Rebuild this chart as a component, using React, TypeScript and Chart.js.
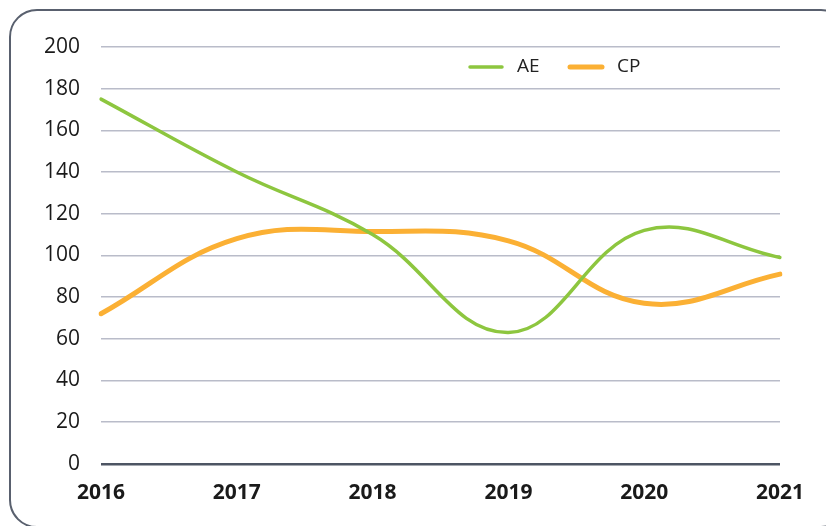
import React, { useEffect, useRef } from "react";
import { Chart, registerables } from "chart.js";

Chart.register(...registerables);

const years = ["2016", "2017", "2018", "2019", "2020", "2021"];
const aeValues = [175, 140, 110, 63, 112, 99];
const cpValues = [72, 108, 111.5, 107, 77, 91];
const seriesNames = ["AE", "CP"];
const seriesColors = ["#8dc63f", "#fbb034"];
const seriesWidths = [3.5, 5];

const legendPlugin = {
  id: "customLegend",
  afterDraw(chart: any) {
    const ctx = chart.ctx;
    const y = chart.chartArea.top + 20;
    const items = [
      { x: 470, textX: 517 },
      { x: 570, textX: 617 },
    ];
    ctx.save();
    chart.data.datasets.forEach((ds: any, i: number) => {
      const it = items[i];
      ctx.strokeStyle = ds.borderColor;
      ctx.lineWidth = ds.borderWidth;
      ctx.lineCap = "round";
      ctx.beginPath();
      ctx.moveTo(it.x, y);
      ctx.lineTo(it.x + 32, y);
      ctx.stroke();
      ctx.fillStyle = "#222";
      ctx.font = "19px 'Open Sans'";
      ctx.textBaseline = "middle";
      ctx.textAlign = "left";
      ctx.fillText(ds.label, it.textX, y);
    });
    ctx.restore();
  },
};

export default function App() {
  const ref = useRef<HTMLCanvasElement>(null);
  useEffect(() => {
    const chart = new Chart(ref.current!, {
      type: "line",
      data: {
        labels: years,
        datasets: [aeValues, cpValues].map((vals, i) => ({
          label: seriesNames[i],
          data: vals,
          borderColor: seriesColors[i],
          backgroundColor: seriesColors[i],
          borderWidth: seriesWidths[i],
          pointRadius: 0,
          tension: 0.4,
          borderCapStyle: "round" as const,
          fill: false,
        })),
      },
      options: {
        animation: false,
        responsive: false,
        maintainAspectRatio: false,
        layout: { padding: { left: 0, right: 46, top: 47, bottom: 3 } },
        plugins: { legend: { display: false }, tooltip: { enabled: false } },
        scales: {
          x: {
            offset: false,
            grid: { display: false, drawTicks: false },
            border: { display: false },
            ticks: {
              color: "#1a1a1a",
              font: { family: "'Open Sans'", size: 21, weight: "bold" },
              padding: 17,
              maxRotation: 0,
              autoSkip: false,
            },
          },
          y: {
            min: 0,
            max: 200,
            afterFit: (s: any) => {
              s.width = 101;
            },
            grid: {
              color: (c: any) => (c.tick.value === 0 ? "#4d5563" : "#b9bcc9"),
              lineWidth: (c: any) => (c.tick.value === 0 ? 2.5 : 1.5),
              drawTicks: false,
            },
            border: { display: false },
            ticks: {
              stepSize: 20,
              color: "#1a1a1a",
              font: { family: "'Open Sans'", size: 21 },
              padding: 21,
            },
          },
        },
      },
      plugins: [legendPlugin],
    });
    return () => chart.destroy();
  }, []);

  return (
    <div style={{ position: "fixed", left: 0, top: 0, width: 826, height: 526, background: "#fff", overflow: "hidden" }}>
      <div
        style={{
          position: "absolute",
          left: 9,
          top: 9,
          width: 840,
          height: 519,
          border: "2.5px solid #59606e",
          borderRadius: 28,
          boxSizing: "border-box",
        }}
      />
      <canvas ref={ref} width={826} height={526} style={{ position: "absolute", left: 0, top: 0 }} />
    </div>
  );
}
